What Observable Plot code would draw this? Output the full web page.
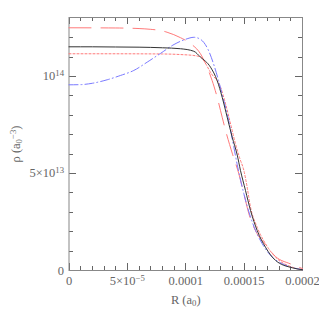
<!DOCTYPE html>
<html>
<head>
<meta charset="utf-8">
<script src="https://cdn.jsdelivr.net/npm/d3@7"></script>
<script src="https://cdn.jsdelivr.net/npm/@observablehq/plot@0.6"></script>
<style>
  html, body { margin: 0; padding: 0; background: #fff; }
</style>
</head>
<body>
<div id="chart"></div>
<script>
// radius (a0) and density (units of 1e14 a0^-3)
const rBlack = [0, 2e-5, 4e-5, 6e-5, 8e-5, 9.55e-5, 1.069e-4, 1.126e-4, 1.212e-4, 1.269e-4, 1.312e-4, 1.355e-4, 1.398e-4, 1.441e-4, 1.469e-4, 1.512e-4, 1.555e-4, 1.612e-4, 1.683e-4, 1.769e-4, 1.912e-4, 2.0e-4];
const rhoBlack = [1.153, 1.153, 1.152, 1.151, 1.148, 1.143, 1.130, 1.100, 1.048, 0.979, 0.893, 0.790, 0.687, 0.595, 0.515, 0.412, 0.309, 0.206, 0.120, 0.052, 0.014, 0.004];

const rRedLong = [0, 4e-5, 6e-5, 7e-5, 8e-5, 8.4e-5, 9.55e-5, 1.04e-4, 1.126e-4, 1.183e-4, 1.226e-4, 1.269e-4, 1.312e-4, 1.341e-4, 1.40e-4, 1.455e-4, 1.498e-4, 1.541e-4, 1.612e-4, 1.683e-4, 1.769e-4, 1.897e-4, 2.0e-4];
const rhoRedLong = [1.251, 1.250, 1.247, 1.243, 1.235, 1.228, 1.200, 1.170, 1.117, 1.048, 0.979, 0.893, 0.790, 0.722, 0.601, 0.498, 0.395, 0.292, 0.189, 0.134, 0.072, 0.034, 0.010];

const rRedDot = [0, 4e-5, 8e-5, 9.55e-5, 1.083e-4, 1.126e-4, 1.22e-4, 1.298e-4, 1.341e-4, 1.384e-4, 1.426e-4, 1.464e-4, 1.498e-4, 1.526e-4, 1.555e-4, 1.612e-4, 1.683e-4, 1.769e-4, 1.912e-4, 2.0e-4];
const rhoRedDot = [1.117, 1.117, 1.116, 1.113, 1.107, 1.100, 1.014, 0.945, 0.859, 0.756, 0.653, 0.576, 0.515, 0.429, 0.326, 0.223, 0.138, 0.069, 0.017, 0.004];

const rBlue = [0, 1e-5, 2e-5, 3.27e-5, 4.4e-5, 5.55e-5, 6.7e-5, 7.84e-5, 9e-5, 1.0e-4, 1.07e-4, 1.13e-4, 1.195e-4, 1.238e-4, 1.281e-4, 1.318e-4, 1.355e-4, 1.384e-4, 1.412e-4, 1.441e-4, 1.455e-4, 1.498e-4, 1.555e-4, 1.598e-4, 1.655e-4, 1.74e-4, 1.826e-4, 2.0e-4];
const rhoBlue = [0.957, 0.958, 0.965, 0.983, 1.005, 1.031, 1.074, 1.119, 1.165, 1.192, 1.202, 1.190, 1.134, 1.065, 0.979, 0.893, 0.808, 0.722, 0.636, 0.545, 0.505, 0.395, 0.275, 0.206, 0.138, 0.069, 0.035, 0.004];

// ticks and labels
const xMajor = [0, 5e-5, 1e-4, 1.5e-4, 2e-4];
const xLabels = ["0", "5×10⁻⁵", "0.0001", "0.00015", "0.0002"];
const yMajor = [0, 5e13, 1e14];
const yLabels = ["0", "5×10¹³", "10¹⁴"];
const xMinor = d3.range(0, 2.00001e-4, 1e-5);
const yMinor = d3.range(0, 1.3e14, 1e13);
const xTitle = "R (a₀)";
const yTitle = "ρ (a₀⁻³)";

const toTable = (rs, vs) => rs.map((r, i) => ({r, rho: vs[i] * 1e14}));
const black = toTable(rBlack, rhoBlack);
const redLong = toTable(rRedLong, rhoRedLong);
const redDot = toTable(rRedDot, rhoRedDot);
const blue = toTable(rBlue, rhoBlue);

const W = 319, H = 319, mL = 68.5, mR = 17, mT = 17, mB = 49;
const pw = W - mL - mR, ph = H - mT - mB;
const axisColor = "#888";
const tickColor = "#666";
const textColor = "#666";
const fmtX = d => xLabels[xMajor.findIndex(v => Math.abs(v - d) < 1e-9)] ?? "";
const fmtY = d => yLabels[yMajor.findIndex(v => Math.abs(v - d) < 1e6)] ?? "";
const mn = 4, mj = 7;

// inward tick marks on all four sides
function tickSet(xs, ys, len) {
  const o = {stroke: tickColor, strokeWidth: 1, shapeRendering: "crispEdges"};
  return [
    Plot.tickX(xs, {x: d => d, insetTop: ph - len, ...o}),
    Plot.tickX(xs, {x: d => d, insetBottom: ph - len, ...o}),
    Plot.tickY(ys, {y: d => d, insetRight: pw - len, ...o}),
    Plot.tickY(ys, {y: d => d, insetLeft: pw - len, ...o})
  ];
}

const chart = Plot.plot({
  width: W,
  height: H,
  marginLeft: mL,
  marginRight: mR,
  marginTop: mT,
  marginBottom: mB,
  x: {domain: [0, 2e-4]},
  y: {domain: [0, 1.304e14]},
  style: {fontFamily: "'Liberation Serif', serif", fontSize: "12.5px", color: textColor, background: "#fff"},
  marks: [
    ...tickSet(xMinor, yMinor, mn),
    ...tickSet(xMajor, yMajor, mj),
    Plot.axisX({anchor: "bottom", ticks: xMajor, tickSize: 0, tickPadding: 6, tickFormat: fmtX,
      label: xTitle, labelAnchor: "center", labelArrow: "none", labelOffset: 33, fill: textColor}),
    Plot.axisY({anchor: "left", ticks: yMajor, tickSize: 0, tickPadding: 5, tickFormat: fmtY,
      label: yTitle, labelAnchor: "center", labelArrow: "none", labelOffset: 58, fill: textColor}),
    Plot.frame({stroke: axisColor}),
    Plot.line(redDot, {x: "r", y: "rho", stroke: "#ff7a7a", strokeWidth: 1, strokeDasharray: "2,2", curve: "monotone-x"}),
    Plot.line(redLong, {x: "r", y: "rho", stroke: "#ff7a7a", strokeWidth: 1, strokeDasharray: "22,10", curve: "monotone-x"}),
    Plot.line(blue, {x: "r", y: "rho", stroke: "#7a7aff", strokeWidth: 1, strokeDasharray: "9,3,1,3", curve: "monotone-x"}),
    Plot.line(black, {x: "r", y: "rho", stroke: "#333", strokeWidth: 1, curve: "monotone-x"})
  ]
});
document.getElementById("chart").appendChild(chart);

// render unicode super/subscripts as smaller raised/lowered tspans (text stays real text)
const sup = "⁰¹²³⁴⁵⁶⁷⁸⁹⁻", supPlain = "0123456789−";
const sub = "₀₁₂₃₄₅₆₇₈₉", subPlain = "0123456789";
d3.select(chart).selectAll("text").each(function() {
  const el = this;
  const targets = el.querySelectorAll("tspan").length ? el.querySelectorAll("tspan") : [el];
  targets.forEach(t => {
    const s = t.textContent;
    if (![...s].some(c => sup.includes(c) || sub.includes(c))) return;
    t.textContent = "";
    let runs = [];
    for (const c of s) {
      const kind = sup.includes(c) ? "sup" : sub.includes(c) ? "sub" : "n";
      const ch = kind === "sup" ? supPlain[sup.indexOf(c)] : kind === "sub" ? subPlain[sub.indexOf(c)] : c;
      if (runs.length && runs[runs.length - 1].kind === kind) runs[runs.length - 1].text += ch;
      else runs.push({kind, text: ch});
    }
    for (const r of runs) {
      const ts = document.createElementNS("http://www.w3.org/2000/svg", "tspan");
      ts.textContent = r.text;
      if (r.kind === "sup") { ts.setAttribute("baseline-shift", "45%"); ts.setAttribute("font-size", "70%"); }
      if (r.kind === "sub") { ts.setAttribute("baseline-shift", "-25%"); ts.setAttribute("font-size", "70%"); }
      t.appendChild(ts);
    }
  });
});
</script>
</body>
</html>
